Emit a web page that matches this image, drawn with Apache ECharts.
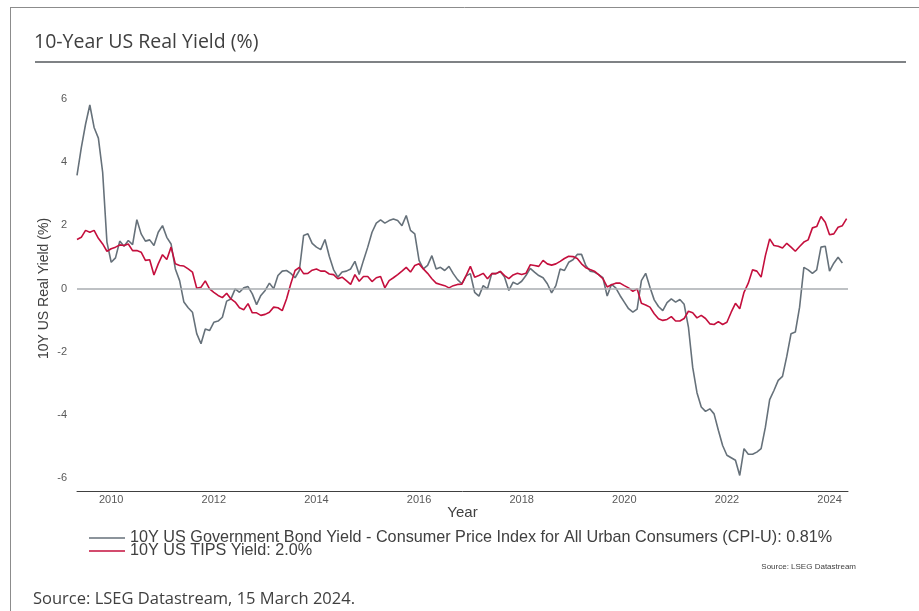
<!DOCTYPE html>
<html>
<head>
<meta charset="utf-8">
<script src="https://cdn.jsdelivr.net/npm/echarts@6.0.0/dist/echarts.min.js"></script>
<style>
  html, body { margin: 0; padding: 0; background: #ffffff; }
  #chart { width: 919px; height: 611px; }
</style>
</head>
<body>
<div id="chart"></div>
<script>
// monthly readings, first point May 2009
const firstMonth = { year: 2009, month: 5 };

const cpiRealYield = [
  3.58, 4.45, 5.2, 5.81, 5.1, 4.76, 3.68, 1.47, 0.83, 0.97,
  1.5, 1.34, 1.52, 1.39, 2.18, 1.73, 1.5, 1.54, 1.36, 1.78,
  1.99, 1.62, 1.41, 0.62, 0.25, -0.43, -0.61, -0.75, -1.43, -1.75,
  -1.28, -1.33, -1.07, -1.03, -0.91, -0.4, -0.33, -0.01, -0.12, 0.02,
  0.06, -0.17, -0.51, -0.22, -0.06, 0.17, -0.01, 0.41, 0.55, 0.57,
  0.48, 0.34, 0.57, 1.68, 1.73, 1.43, 1.31, 1.23, 1.55, 1.02,
  0.6, 0.36, 0.52, 0.55, 0.62, 0.86, 0.44, 0.89, 1.31, 1.78,
  2.07, 2.17, 2.07, 2.15, 2.2, 2.15, 1.99, 2.31, 1.84, 1.73,
  0.89, 0.62, 0.73, 1.04, 0.62, 0.67, 0.57, 0.7, 0.47, 0.28,
  0.15, 0.4, 0.47, -0.12, -0.24, 0.09, -0.01, 0.47, 0.47, 0.54,
  0.36, -0.06, 0.2, 0.13, 0.23, 0.41, 0.64, 0.52, 0.41, 0.34,
  0.15, -0.14, 0.09, 0.62, 0.57, 0.83, 0.91, 1.08, 1.08, 0.73,
  0.55, 0.52, 0.44, 0.34, -0.24, 0.13, 0.02, -0.22, -0.43, -0.64,
  -0.75, -0.65, 0.25, 0.48, 0.04, -0.36, -0.57, -0.7, -0.45, -0.33,
  -0.43, -0.35, -0.5, -1.22, -2.5, -3.3, -3.75, -3.89, -3.81, -3.97,
  -4.49, -4.97, -5.28, -5.36, -5.44, -5.92, -5.07, -5.25, -5.25, -5.18,
  -5.07, -4.39, -3.52, -3.23, -2.91, -2.78, -2.15, -1.43, -1.38, -0.59,
  0.67, 0.59, 0.48, 0.59, 1.31, 1.34, 0.55, 0.8, 0.99, 0.81
];

const tipsYield = [
  1.55, 1.62, 1.84, 1.78, 1.84, 1.59, 1.41, 1.18, 1.26, 1.31,
  1.38, 1.36, 1.41, 1.2, 1.2, 1.15, 0.89, 0.91, 0.43, 0.78,
  1.07, 0.92, 1.31, 0.78, 0.73, 0.71, 0.62, 0.52, 0.01, 0.04,
  0.24, -0.01, -0.12, -0.22, -0.29, -0.15, -0.33, -0.43, -0.61, -0.67,
  -0.48, -0.77, -0.77, -0.85, -0.82, -0.75, -0.59, -0.61, -0.7, -0.33,
  0.15, 0.57, 0.67, 0.47, 0.48, 0.58, 0.62, 0.55, 0.55, 0.46,
  0.44, 0.31, 0.36, 0.25, 0.13, 0.44, 0.23, 0.38, 0.38, 0.22,
  0.34, 0.38, 0.02, 0.25, 0.34, 0.44, 0.55, 0.67, 0.52, 0.73,
  0.78, 0.62, 0.48, 0.31, 0.17, 0.13, 0.09, 0.02, 0.09, 0.13,
  0.14, 0.41, 0.7, 0.36, 0.41, 0.48, 0.31, 0.47, 0.47, 0.54,
  0.41, 0.31, 0.43, 0.48, 0.44, 0.48, 0.75, 0.73, 0.7, 0.89,
  0.78, 0.74, 0.78, 0.86, 0.95, 1.02, 1.01, 0.95, 0.78, 0.66,
  0.6, 0.55, 0.44, 0.31, 0.05, 0.12, 0.17, 0.17, 0.09, 0.02,
  -0.09, -0.01, -0.47, -0.52, -0.59, -0.8, -0.96, -1.01, -0.98, -0.89,
  -1.03, -1.03, -0.95, -0.72, -0.77, -0.93, -0.85, -0.95, -1.12, -1.14,
  -1.05, -1.14, -1.07, -0.75, -0.47, -0.64, -0.12, 0.17, 0.59, 0.55,
  0.36, 1.04, 1.57, 1.36, 1.34, 1.28, 1.43, 1.31, 1.18, 1.33,
  1.47, 1.54, 1.92, 1.96, 2.28, 2.1, 1.7, 1.73, 1.94, 1.99,
  2.21
];

const yearTicks = [2010, 2012, 2014, 2016, 2018, 2020, 2022, 2024];

const seriesNames = [
  '10Y US Government Bond Yield - Consumer Price Index for All Urban Consumers (CPI-U): 0.81%',
  '10Y US TIPS Yield: 2.0%'
];

// month i as a decimal year (start of that month)
function monthYear(i) {
  return firstMonth.year + (firstMonth.month - 1 + i) / 12;
}

const pairs = (values) => values.map((v, i) => [monthYear(i), v]);

const chart = echarts.init(document.getElementById('chart'), null, { renderer: 'canvas' });

const font = '"Liberation Sans", Arial, sans-serif';

chart.setOption({
  backgroundColor: '#ffffff',
  animation: false,
  textStyle: { fontFamily: font },
  graphic: [
    { type: 'line', shape: { x1: 10, y1: 7.5, x2: 919, y2: 7.5 }, style: { stroke: '#8c8c8c', lineWidth: 1 } },
    { type: 'line', shape: { x1: 10.5, y1: 7, x2: 10.5, y2: 611 }, style: { stroke: '#8c8c8c', lineWidth: 1 } },
    { type: 'text', left: 34, top: 32, style: { text: '10-Year US Real Yield (%)', fill: '#404040', font: '19.5px "Open Sans", sans-serif' } },
    { type: 'line', shape: { x1: 35, y1: 62, x2: 906, y2: 62 }, style: { stroke: '#55595d', lineWidth: 1.5 } },
    { type: 'text', right: 63, top: 563, style: { text: 'Source: LSEG Datastream', fill: '#404040', font: '8px ' + font } },
    { type: 'text', left: 33, top: 591, style: { text: 'Source: LSEG Datastream, 15 March 2024.', fill: '#404040', font: '16.5px "Open Sans", sans-serif' } }
  ],
  grid: { left: 77, right: 71, top: 99, bottom: 133 },
  legend: {
    orient: 'vertical',
    left: 84,
    top: 525,
    icon: 'rect',
    itemWidth: 36,
    itemHeight: 1.5,
    itemGap: -3,
    textStyle: { fontSize: 16.2, color: '#404040', fontFamily: font },
    data: seriesNames
  },
  xAxis: {
    type: 'value',
    min: 2009 + 4 / 12,
    max: 2024.36,
    offset: 13,
    name: 'Year',
    nameLocation: 'middle',
    nameGap: 14,
    nameMoveOverlap: false,
    nameTextStyle: { fontSize: 15, color: '#404040' },
    axisLine: { show: true, onZero: false, lineStyle: { color: '#404040', width: 1 } },
    axisTick: { show: false },
    splitLine: { show: false },
    axisLabel: {
      customValues: yearTicks,
      formatter: (val) => String(Math.round(val)),
      fontSize: 11,
      color: '#595959',
      margin: 3
    }
  },
  yAxis: {
    type: 'value',
    min: -6,
    max: 6,
    interval: 2,
    name: '10Y US Real Yield (%)',
    nameLocation: 'middle',
    nameGap: 26,
    nameMoveOverlap: false,
    nameTextStyle: { fontSize: 14, color: '#404040' },
    axisLine: { show: false },
    axisTick: { show: false },
    splitLine: { show: false },
    axisLabel: { fontSize: 11, color: '#595959', margin: 10 }
  },
  series: [
    {
      name: seriesNames[0],
      type: 'line',
      data: pairs(cpiRealYield),
      showSymbol: false,
      lineStyle: { color: '#66717a', width: 1.6 },
      itemStyle: { color: '#66717a' },
      markLine: {
        silent: true,
        symbol: 'none',
        label: { show: false },
        lineStyle: { color: '#a9acb0', width: 1.5, type: 'solid' },
        data: [{ yAxis: 0 }]
      },
      z: 2
    },
    {
      name: seriesNames[1],
      type: 'line',
      data: pairs(tipsYield),
      showSymbol: false,
      lineStyle: { color: '#c40f3d', width: 1.6 },
      itemStyle: { color: '#c40f3d' },
      z: 3
    }
  ]
});
</script>
</body>
</html>
